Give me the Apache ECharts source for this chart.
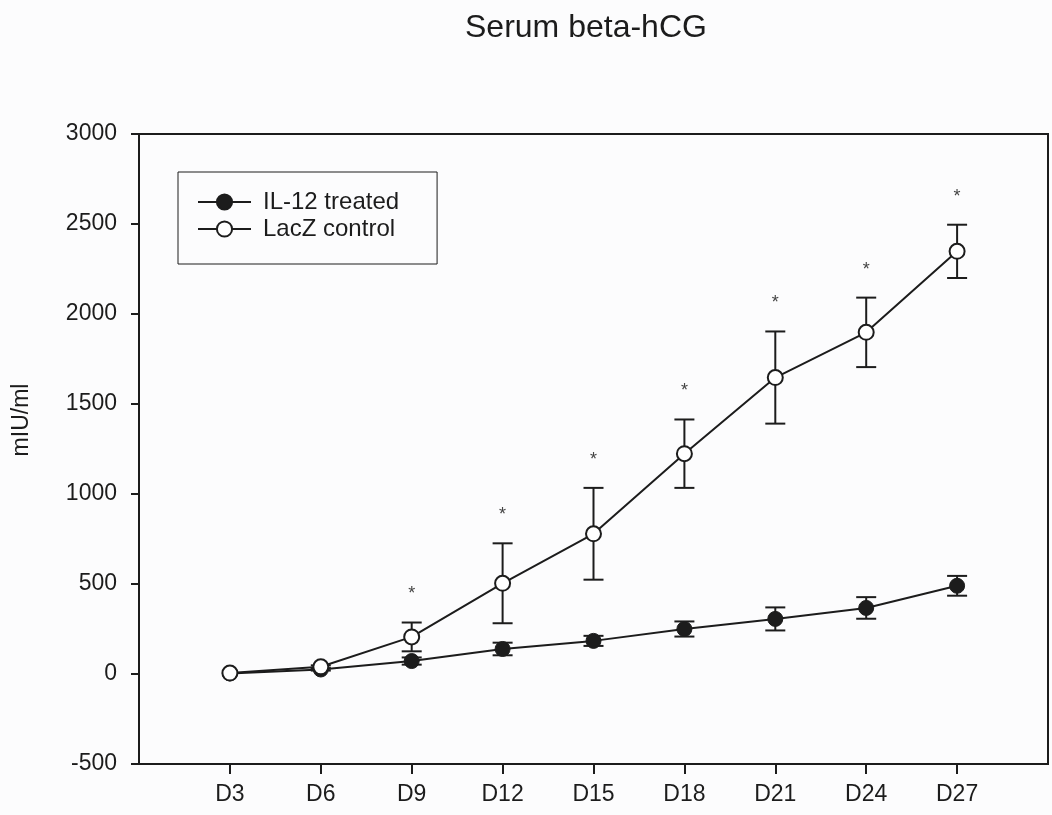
<!DOCTYPE html>
<html>
<head>
<meta charset="utf-8">
<title>Serum beta-hCG</title>
<script src="https://cdn.jsdelivr.net/npm/echarts@6/dist/echarts.min.js"></script>
<style>
  html, body { margin: 0; padding: 0; background: #fcfcfd; }
  #chart { width: 1052px; height: 815px; }
</style>
</head>
<body>
<div id="chart"></div>
<script>
// days of measurement (x positions, labelled D3 .. D27)
const days = [3, 6, 9, 12, 15, 18, 21, 24, 27]
const dayLabels = ['D3', 'D6', 'D9', 'D12', 'D15', 'D18', 'D21', 'D24', 'D27']

// mean serum beta-hCG, mIU/ml
const il12Mean = [3, 25, 72, 139, 184, 250, 306, 367, 490]
const il12Err = [0, 6, 20, 35, 28, 42, 64, 60, 55]
const lacZMean = [5, 40, 206, 504, 779, 1224, 1647, 1898, 2348]
const lacZErr = [0, 8, 80, 222, 255, 190, 256, 193, 148]
// significance marks (*) over the control bars
const significant = [false, false, true, true, true, true, true, true, true]

const yTicks = [-500, 0, 500, 1000, 1500, 2000, 2500, 3000]

const ink = '#1c1c1c'
const font = 'Liberation Sans, Arial, sans-serif'

const chart = echarts.init(document.getElementById('chart'))

const errData = (mean, err, marks) =>
  days.map((d, i) => [d, mean[i] - err[i], mean[i] + err[i], marks ? (marks[i] ? 1 : 0) : 0])

const renderErr = (params, api) => {
  const x = api.value(0)
  const lo = api.coord([x, api.value(1)])
  const hi = api.coord([x, api.value(2)])
  const half = 10
  const style = { stroke: ink, lineWidth: 2 }
  const children = []
  if (hi[1] < lo[1] - 1) {
    children.push(
      { type: 'line', shape: { x1: hi[0], y1: hi[1], x2: lo[0], y2: lo[1] }, style },
      { type: 'line', shape: { x1: hi[0] - half, y1: hi[1], x2: hi[0] + half, y2: hi[1] }, style },
      { type: 'line', shape: { x1: lo[0] - half, y1: lo[1], x2: lo[0] + half, y2: lo[1] }, style }
    )
  }
  if (api.value(3)) {
    children.push({
      type: 'text',
      x: hi[0],
      y: hi[1] - 28,
      style: { text: '*', fill: '#444', font: '18px ' + font, align: 'center', verticalAlign: 'middle' }
    })
  }
  return { type: 'group', children }
}

const option = {
  backgroundColor: '#fcfcfd',
  animation: false,
  title: {
    text: 'Serum beta-hCG',
    left: 460,
    top: 7,
    textStyle: { fontFamily: font, fontSize: 32, fontWeight: 'normal', color: ink }
  },
  legend: {
    orient: 'vertical',
    left: 178,
    top: 172,
    padding: [18, 38, 23, 19],
    itemGap: 3,
    itemWidth: 53,
    itemHeight: 19,
    borderColor: ink,
    borderWidth: 1,
    textStyle: { fontFamily: font, fontSize: 24, color: ink, padding: [0, 0, 0, 7] },
    data: ['IL-12 treated', 'LacZ control']
  },
  grid: {
    left: 139,
    right: 4,
    top: 134,
    bottom: 51,
    containLabel: false,
    show: true,
    borderColor: ink,
    borderWidth: 2,
    backgroundColor: 'transparent'
  },
  xAxis: {
    type: 'value',
    min: 0,
    max: 30,
    interval: 3,
    axisLine: { show: true, onZero: false, lineStyle: { color: ink, width: 2 } },
    axisTick: { show: true, length: 10, lineStyle: { color: ink, width: 2 }, customValues: days },
    axisLabel: {
      customValues: days,
      formatter: v => dayLabels[days.indexOf(v)] || '',
      margin: 19,
      fontFamily: font,
      fontSize: 23,
      color: ink
    },
    splitLine: { show: false }
  },
  yAxis: {
    type: 'value',
    min: -500,
    max: 3000,
    interval: 500,
    axisLine: { show: true, lineStyle: { color: ink, width: 2 } },
    axisTick: { show: true, length: 8, lineStyle: { color: ink, width: 2 }, customValues: yTicks },
    axisLabel: { margin: 22, fontFamily: font, fontSize: 23, color: ink, formatter: v => String(v) },
    splitLine: { show: false }
  },
  graphic: [{
    type: 'text',
    x: 22,
    y: 420,
    rotation: Math.PI / 2,
    style: { text: 'mIU/ml', fill: ink, font: '23px ' + font, align: 'center', verticalAlign: 'middle' }
  }],
  series: [
    {
      name: 'il12-err',
      type: 'custom',
      renderItem: renderErr,
      data: errData(il12Mean, il12Err),
      z: 2,
      silent: true
    },
    {
      name: 'lacz-err',
      type: 'custom',
      renderItem: renderErr,
      data: errData(lacZMean, lacZErr, significant),
      z: 2,
      silent: true
    },
    {
      name: 'IL-12 treated',
      type: 'line',
      data: days.map((d, i) => [d, il12Mean[i]]),
      symbol: 'circle',
      symbolSize: 15,
      lineStyle: { color: ink, width: 2 },
      itemStyle: { color: ink, borderColor: ink, borderWidth: 1 },
      z: 3
    },
    {
      name: 'LacZ control',
      type: 'line',
      data: days.map((d, i) => [d, lacZMean[i]]),
      symbol: 'circle',
      symbolSize: 15,
      lineStyle: { color: ink, width: 2 },
      itemStyle: { color: '#ffffff', borderColor: ink, borderWidth: 2 },
      z: 4
    }
  ]
}

chart.setOption(option)
</script>
</body>
</html>
